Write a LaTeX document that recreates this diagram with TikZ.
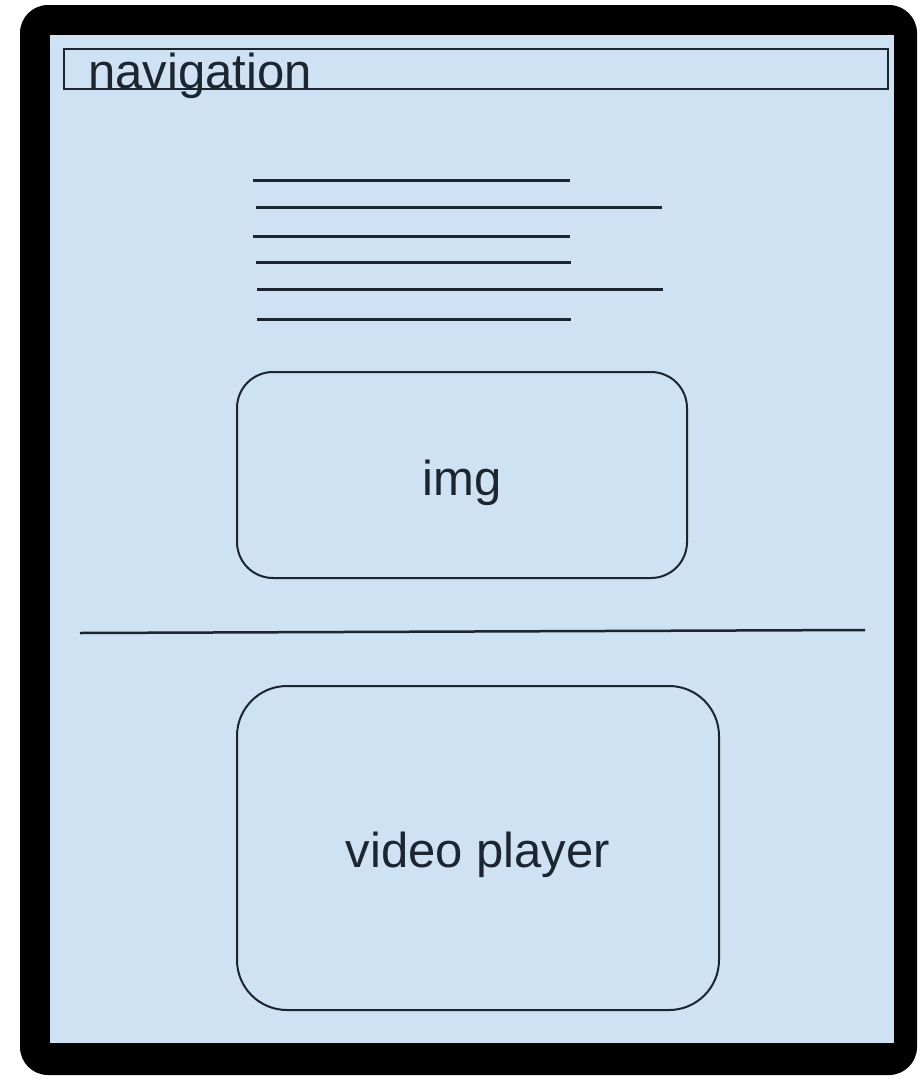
\documentclass[tikz,border=0pt]{standalone}
\usepackage{fontspec}
\setmainfont{Liberation Sans}
\definecolor{pagebg}{HTML}{CFE2F3}
\definecolor{ink}{HTML}{1C2630}
\begin{document}
\begin{tikzpicture}[x=1pt,y=-1pt,
  frame/.style={fill=black,rounded corners=28pt},
  screen/.style={fill=pagebg},
  box/.style={draw=ink,line width=2pt,rectangle,inner sep=0pt},
  textline/.style={draw=ink,line width=3pt},
  label/.style={inner sep=0pt,anchor=base,text=ink,font=\fontsize{49}{58}\selectfont}]
\useasboundingbox (0,0) rectangle (921,1079);
\fill[white] (0,0) rectangle (921,1079);
\fill[frame] (20,5) rectangle (917,1075);
\fill[screen] (50,35) rectangle (894,1043);
% navigation bar
\node[box,minimum width=824pt,minimum height=40pt] (nav) at (476,69) {};
\node[label,anchor=base west] (navtext) at (88,88) {navigation};
% text lines
\coordinate (l1a) at (253,180); \coordinate (l1b) at (570,180);
\coordinate (l2a) at (256,207); \coordinate (l2b) at (662,207);
\coordinate (l3a) at (253,236); \coordinate (l3b) at (570,236);
\coordinate (l4a) at (256,262); \coordinate (l4b) at (571,262);
\coordinate (l5a) at (257,289); \coordinate (l5b) at (663,289);
\coordinate (l6a) at (257,319); \coordinate (l6b) at (571,319);
\draw[textline] (l1a) -- (l1b);
\draw[textline] (l2a) -- (l2b);
\draw[textline] (l3a) -- (l3b);
\draw[textline] (l4a) -- (l4b);
\draw[textline] (l5a) -- (l5b);
\draw[textline] (l6a) -- (l6b);
% img box
\node[box,rounded corners=36pt,minimum width=450pt,minimum height=206pt] (img) at (462,475) {};
\node[label] (imgtext) at (462,495) {img};
% separator
\coordinate (sepa) at (80,633);
\coordinate (sepb) at (865,630);
\draw[draw=ink,line width=2.5pt] (sepa) -- (sepb);
% video player box
\node[box,rounded corners=50pt,minimum width=482pt,minimum height=324pt] (video) at (478,848) {};
\node[label] (videotext) at (478,867) {video player};
\end{tikzpicture}
\end{document}
